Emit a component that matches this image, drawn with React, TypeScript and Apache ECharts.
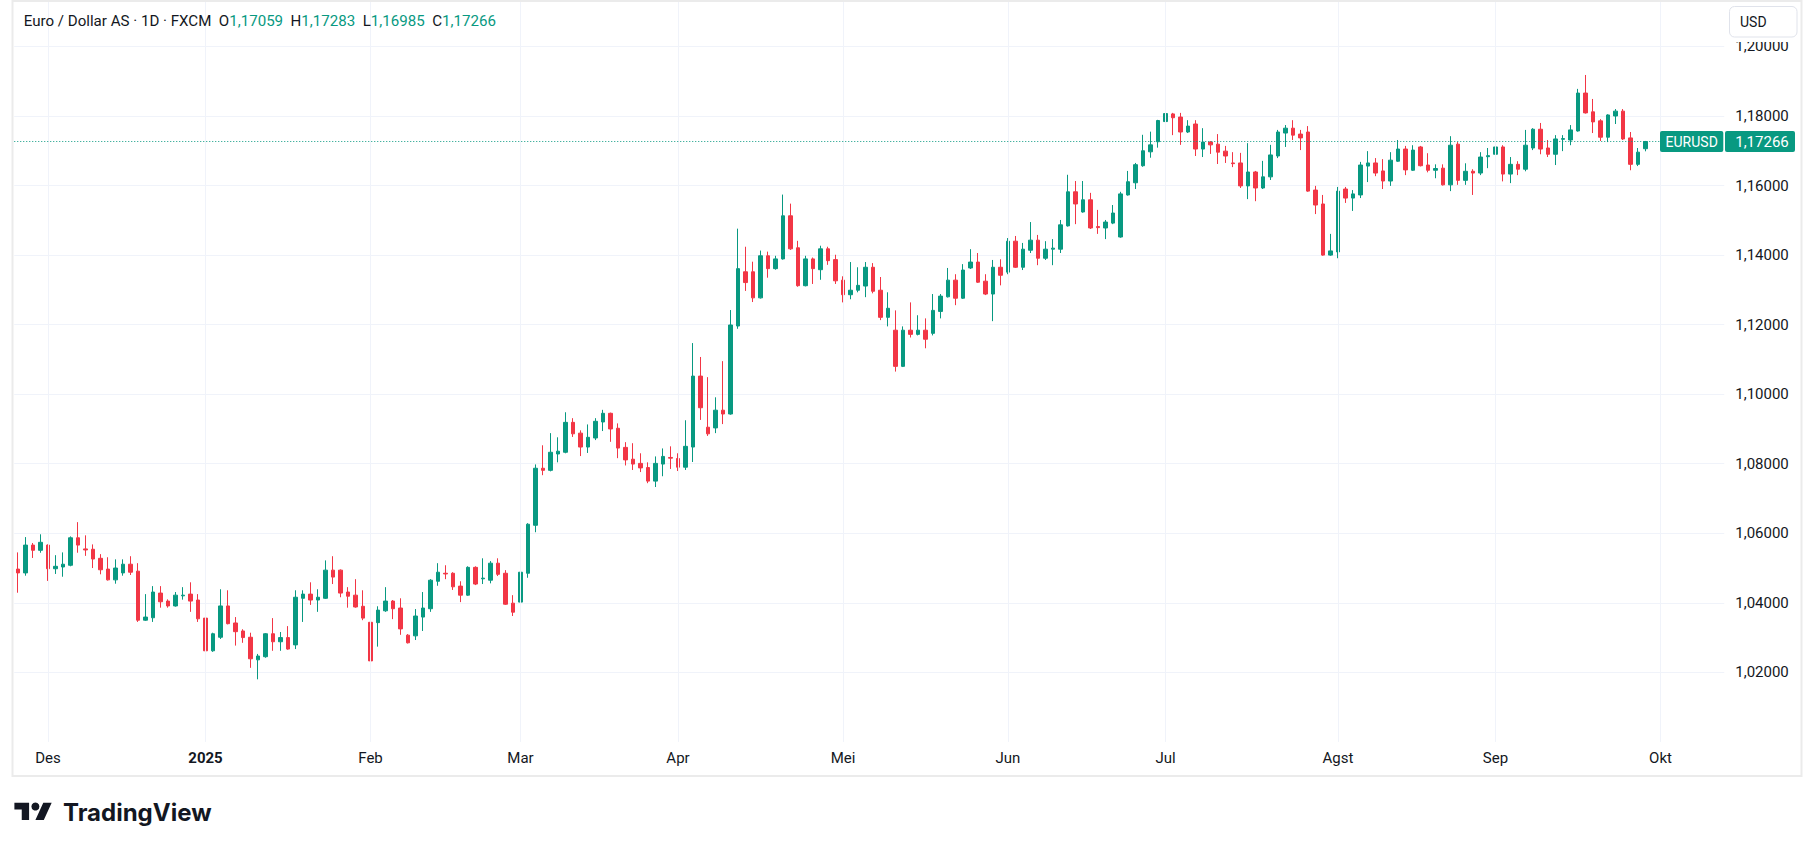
import React, { useEffect, useRef } from "react";
import * as echarts from "echarts";

// ---------- data ----------
const startDate = "2024-11-26";
const holidays = ["2024-12-25", "2025-01-01"];
const slotCount = 228;

const tickDates = ["2024-12-02", "2025-01-02", "2025-02-03", "2025-03-03", "2025-04-01", "2025-05-01", "2025-06-02", "2025-07-01", "2025-08-01", "2025-09-01", "2025-10-01"];
const tickLabels = ["Des", "2025", "Feb", "Mar", "Apr", "Mei", "Jun", "Jul", "Agst", "Sep", "Okt"];

const opens = [
  1.0497, 1.0486, 1.0566, 1.0551, 1.0566, 1.0498, 1.0503, 1.0508, 1.0587, 1.0555,
  1.0554, 1.0528, 1.0497, 1.0466, 1.0486, 1.0511, 1.0491, 1.0350, 1.0357, 1.0428,
  1.0405, 1.0391, 1.0420, 1.0425, 1.0408, 1.0356, 1.0262, 1.0301, 1.0391, 1.0342,
  1.0319, 1.0301, 1.0236, 1.0245, 1.0311, 1.0288, 1.0300, 1.0279, 1.0413, 1.0425,
  1.0408, 1.0413, 1.0494, 1.0494, 1.0431, 1.0422, 1.0390, 1.0344, 1.0343, 1.0377,
  1.0405, 1.0385, 1.0307, 1.0305, 1.0359, 1.0383, 1.0462, 1.0485, 1.0485, 1.0448,
  1.0422, 1.0502, 1.0469, 1.0465, 1.0514, 1.0485, 1.0399, 1.0402, 1.0485, 1.0623,
  1.0787, 1.0781, 1.0828, 1.0833, 1.0919, 1.0888, 1.0848, 1.0874, 1.0920, 1.0945,
  1.0902, 1.0847, 1.0813, 1.0801, 1.0789, 1.0750, 1.0799, 1.0818, 1.0815, 1.0790,
  1.0848, 1.1052, 1.0905, 1.0903, 1.0954, 1.0943, 1.1196, 1.1352, 1.1352, 1.1277,
  1.1398, 1.1361, 1.1389, 1.1513, 1.1421, 1.1312, 1.1389, 1.1358, 1.1418, 1.1387,
  1.1328, 1.1286, 1.1299, 1.1311, 1.1365, 1.1299, 1.1221, 1.1184, 1.1080, 1.1184,
  1.1172, 1.1184, 1.1175, 1.1238, 1.1280, 1.1328, 1.1276, 1.1363, 1.1380, 1.1325,
  1.1288, 1.1365, 1.1351, 1.1440, 1.1365, 1.1414, 1.1443, 1.1391, 1.1417, 1.1417,
  1.1484, 1.1582, 1.1524, 1.1559, 1.1482, 1.1478, 1.1492, 1.1452, 1.1573, 1.1608,
  1.1657, 1.1697, 1.1726, 1.1784, 1.1806, 1.1797, 1.1754, 1.1777, 1.1705, 1.1725,
  1.1719, 1.1699, 1.1665, 1.1665, 1.1599, 1.1639, 1.1593, 1.1625, 1.1685, 1.1751,
  1.1765, 1.1748, 1.1754, 1.1587, 1.1547, 1.1400, 1.1409, 1.1590, 1.1564, 1.1573,
  1.1656, 1.1665, 1.1642, 1.1613, 1.1670, 1.1705, 1.1644, 1.1711, 1.1659, 1.1644,
  1.1650, 1.1602, 1.1719, 1.1615, 1.1641, 1.1636, 1.1683, 1.1690, 1.1711, 1.1633,
  1.1661, 1.1647, 1.1708, 1.1762, 1.1708, 1.1690, 1.1733, 1.1731, 1.1757, 1.1866,
  1.1812, 1.1786, 1.1739, 1.1800, 1.1814, 1.1737, 1.1661, 1.17059,
];

const closes = [
  1.0486, 1.0566, 1.0551, 1.0574, 1.0498, 1.0505, 1.0511, 1.0587, 1.0566, 1.0552,
  1.0526, 1.0495, 1.0466, 1.0500, 1.0511, 1.0488, 1.0350, 1.0359, 1.0431, 1.0403,
  1.0391, 1.0422, 1.0422, 1.0405, 1.0354, 1.0262, 1.0311, 1.0391, 1.0340, 1.0317,
  1.0300, 1.0239, 1.0247, 1.0311, 1.0288, 1.0300, 1.0267, 1.0416, 1.0425, 1.0408,
  1.0416, 1.0494, 1.0474, 1.0428, 1.0419, 1.0388, 1.0356, 1.0233, 1.0379, 1.0405,
  1.0383, 1.0325, 1.0285, 1.0362, 1.0385, 1.0465, 1.0488, 1.0483, 1.0446, 1.0422,
  1.0502, 1.0454, 1.0471, 1.0514, 1.0482, 1.0396, 1.0373, 1.0488, 1.0626, 1.0787,
  1.0781, 1.0833, 1.0836, 1.0919, 1.0886, 1.0848, 1.0876, 1.0922, 1.0945, 1.0900,
  1.0845, 1.0811, 1.0799, 1.0788, 1.0750, 1.0801, 1.0821, 1.0816, 1.0790, 1.0850,
  1.1052, 1.0961, 1.0886, 1.0954, 1.0943, 1.1199, 1.1361, 1.1321, 1.1277, 1.1398,
  1.1361, 1.1389, 1.1513, 1.1418, 1.1312, 1.1389, 1.1361, 1.1418, 1.1384, 1.1326,
  1.1286, 1.1299, 1.1313, 1.1365, 1.1296, 1.1221, 1.1247, 1.1080, 1.1184, 1.1172,
  1.1184, 1.1158, 1.1241, 1.1282, 1.1328, 1.1276, 1.1357, 1.1380, 1.1322, 1.1288,
  1.1365, 1.1342, 1.1440, 1.1365, 1.1417, 1.1443, 1.1391, 1.1417, 1.1420, 1.1487,
  1.1582, 1.1547, 1.1559, 1.1478, 1.1479, 1.1495, 1.1521, 1.1576, 1.1611, 1.1660,
  1.1700, 1.1717, 1.1787, 1.1807, 1.1795, 1.1754, 1.1771, 1.1705, 1.1725, 1.1717,
  1.1696, 1.1685, 1.1663, 1.1599, 1.1639, 1.1593, 1.1625, 1.1688, 1.1754, 1.1765,
  1.1745, 1.1737, 1.1584, 1.1544, 1.1400, 1.1412, 1.1584, 1.1564, 1.1576, 1.1659,
  1.1665, 1.1636, 1.1613, 1.1673, 1.1705, 1.1645, 1.1702, 1.1657, 1.1644, 1.1649,
  1.1602, 1.1716, 1.1615, 1.1641, 1.1636, 1.1682, 1.1686, 1.1711, 1.1633, 1.1661,
  1.1647, 1.1716, 1.1762, 1.1705, 1.1690, 1.1734, 1.1735, 1.1760, 1.1866, 1.1809,
  1.1783, 1.1739, 1.1803, 1.1814, 1.1734, 1.1661, 1.1696, 1.17266,
];

const highs = [
  1.0545, 1.0589, 1.0572, 1.0597, 1.0568, 1.0537, 1.0545, 1.0591, 1.0632, 1.0594,
  1.0568, 1.0540, 1.0531, 1.0525, 1.0525, 1.0534, 1.0514, 1.0425, 1.0448, 1.0448,
  1.0410, 1.0431, 1.0445, 1.0459, 1.0425, 1.0373, 1.0314, 1.0439, 1.0436, 1.0359,
  1.0324, 1.0314, 1.0253, 1.0313, 1.0356, 1.0316, 1.0333, 1.0436, 1.0436, 1.0459,
  1.0439, 1.0522, 1.0534, 1.0496, 1.0445, 1.0468, 1.0436, 1.0350, 1.0390, 1.0445,
  1.0408, 1.0413, 1.0310, 1.0382, 1.0431, 1.0468, 1.0514, 1.0508, 1.0488, 1.0462,
  1.0505, 1.0505, 1.0528, 1.0520, 1.0528, 1.0494, 1.0422, 1.0505, 1.0629, 1.0798,
  1.0853, 1.0888, 1.0876, 1.0948, 1.0931, 1.0896, 1.0913, 1.0931, 1.0955, 1.0947,
  1.0916, 1.0862, 1.0859, 1.0830, 1.0804, 1.0821, 1.0844, 1.0850, 1.0830, 1.0925,
  1.1147, 1.1107, 1.1049, 1.0991, 1.1095, 1.1242, 1.1476, 1.1424, 1.1381, 1.1413,
  1.1410, 1.1398, 1.1574, 1.1548, 1.1441, 1.1398, 1.1393, 1.1427, 1.1424, 1.1401,
  1.1339, 1.1380, 1.1365, 1.1380, 1.1377, 1.1337, 1.1293, 1.1241, 1.1195, 1.1264,
  1.1227, 1.1218, 1.1288, 1.1288, 1.1363, 1.1345, 1.1374, 1.1417, 1.1406, 1.1345,
  1.1386, 1.1388, 1.1449, 1.1455, 1.1435, 1.1495, 1.1458, 1.1440, 1.1446, 1.1501,
  1.1631, 1.1613, 1.1613, 1.1579, 1.1530, 1.1501, 1.1544, 1.1582, 1.1642, 1.1665,
  1.1746, 1.1755, 1.1789, 1.1830, 1.1809, 1.1809, 1.1788, 1.1788, 1.1765, 1.1728,
  1.1748, 1.1714, 1.1696, 1.1694, 1.1722, 1.1642, 1.1671, 1.1717, 1.1760, 1.1774,
  1.1788, 1.1760, 1.1771, 1.1599, 1.1573, 1.1461, 1.1596, 1.1596, 1.1587, 1.1668,
  1.1699, 1.1679, 1.1676, 1.1696, 1.1731, 1.1714, 1.1716, 1.1714, 1.1693, 1.1661,
  1.1661, 1.1742, 1.1725, 1.1664, 1.1647, 1.1696, 1.1708, 1.1737, 1.1716, 1.1682,
  1.1670, 1.1760, 1.1765, 1.1780, 1.1731, 1.1745, 1.1745, 1.1774, 1.1878, 1.1918,
  1.1849, 1.1791, 1.1805, 1.1820, 1.1820, 1.1754, 1.1708, 1.17283,
];

const lows = [
  1.0429, 1.0478, 1.0529, 1.0544, 1.0463, 1.0483, 1.0475, 1.0505, 1.0544, 1.0535,
  1.0500, 1.0482, 1.0464, 1.0455, 1.0478, 1.0480, 1.0345, 1.0348, 1.0345, 1.0386,
  1.0386, 1.0389, 1.0409, 1.0374, 1.0345, 1.0225, 1.0259, 1.0296, 1.0338, 1.0277,
  1.0285, 1.0213, 1.0180, 1.0242, 1.0262, 1.0262, 1.0265, 1.0267, 1.0345, 1.0394,
  1.0374, 1.0411, 1.0454, 1.0416, 1.0386, 1.0386, 1.0350, 1.0213, 1.0274, 1.0374,
  1.0353, 1.0308, 1.0283, 1.0293, 1.0319, 1.0374, 1.0449, 1.0468, 1.0437, 1.0402,
  1.0420, 1.0451, 1.0454, 1.0456, 1.0477, 1.0394, 1.0362, 1.0391, 1.0472, 1.0603,
  1.0767, 1.0778, 1.0804, 1.0830, 1.0877, 1.0822, 1.0831, 1.0868, 1.0894, 1.0863,
  1.0816, 1.0795, 1.0782, 1.0776, 1.0744, 1.0733, 1.0764, 1.0785, 1.0779, 1.0782,
  1.0805, 1.0926, 1.0880, 1.0888, 1.0914, 1.0941, 1.1188, 1.1297, 1.1265, 1.1275,
  1.1335, 1.1358, 1.1387, 1.1415, 1.1309, 1.1310, 1.1317, 1.1329, 1.1372, 1.1317,
  1.1264, 1.1273, 1.1293, 1.1279, 1.1290, 1.1213, 1.1195, 1.1065, 1.1078, 1.1163,
  1.1169, 1.1132, 1.1169, 1.1218, 1.1278, 1.1256, 1.1274, 1.1360, 1.1320, 1.1285,
  1.1210, 1.1313, 1.1345, 1.1363, 1.1357, 1.1406, 1.1371, 1.1386, 1.1371, 1.1406,
  1.1482, 1.1489, 1.1522, 1.1475, 1.1461, 1.1446, 1.1489, 1.1450, 1.1571, 1.1590,
  1.1654, 1.1680, 1.1709, 1.1761, 1.1745, 1.1717, 1.1751, 1.1685, 1.1682, 1.1691,
  1.1662, 1.1665, 1.1653, 1.1593, 1.1561, 1.1555, 1.1590, 1.1616, 1.1679, 1.1711,
  1.1731, 1.1702, 1.1582, 1.1518, 1.1398, 1.1398, 1.1391, 1.1550, 1.1527, 1.1564,
  1.1610, 1.1627, 1.1590, 1.1599, 1.1668, 1.1630, 1.1642, 1.1655, 1.1638, 1.1621,
  1.1600, 1.1584, 1.1602, 1.1602, 1.1573, 1.1630, 1.1650, 1.1688, 1.1612, 1.1607,
  1.1630, 1.1641, 1.1702, 1.1690, 1.1682, 1.1659, 1.1699, 1.1716, 1.1755, 1.1807,
  1.1751, 1.1728, 1.1725, 1.1777, 1.1731, 1.1644, 1.1656, 1.16985,
];

const yMin = 1.0;
const yMax = 1.212787;
const yStep = 0.02;

// ---------- style ----------
const FONT = "Roboto, 'Noto Sans', sans-serif";
const UP = "#089981";
const DOWN = "#f23645";
const TEXT = "#131722";
const GRID = "#f0f3fa";

const TV_LOGO = "M14 22H7V11H0V4h14v18zM28 22h-8l7.5-18h8L28 22z";
echarts.graphic.registerShape("tvlogo", echarts.graphic.extendPath(TV_LOGO, {}));

function buildDates(): string[] {
  const out: string[] = [];
  const d = new Date(startDate + "T00:00:00Z");
  while (out.length < slotCount) {
    const dow = d.getUTCDay();
    const s = d.toISOString().slice(0, 10);
    if (dow !== 0 && dow !== 6 && holidays.indexOf(s) < 0) out.push(s);
    d.setUTCDate(d.getUTCDate() + 1);
  }
  return out;
}

const fmt = (v: number) => v.toFixed(5).replace(".", ",");

export default function App() {
  const ref = useRef<HTMLDivElement>(null);

  useEffect(() => {
    document.body.style.margin = "0";
    document.body.style.overflow = "hidden";
    const el = ref.current!;
    const chart = echarts.init(el, null, { renderer: "svg" });
    const dates = buildDates();
    const candles = opens.map((o, i) => [o, closes[i], lows[i], highs[i]]);
    const last = opens.length - 1;
    const lastClose = closes[last];
    const lastUp = closes[last] >= opens[last];
    const tagColor = lastUp ? UP : DOWN;

    const option: any = {
      animation: false,
      backgroundColor: "#ffffff",
      textStyle: { fontFamily: FONT },
      grid: {
        left: 14.25,
        right: 1813 - 1724.25,
        top: 2,
        bottom: 849 - 741.9,
        containLabel: false,
        outerBoundsMode: "none",
      },
      xAxis: {
        type: "category",
        data: dates,
        boundaryGap: true,
        axisLine: { show: false },
        axisTick: { show: false },
        splitLine: { show: false },
        axisLabel: {
          interval: (_i: number, v: string) => tickDates.indexOf(v) >= 0,
          formatter: (v: string) => {
            const k = tickDates.indexOf(v);
            if (k < 0) return "";
            const lab = tickLabels[k];
            return /^\d{4}$/.test(lab) ? `{b|${lab}}` : lab;
          },
          color: TEXT,
          fontSize: 15,
          fontFamily: FONT,
          margin: 9,
          rich: { b: { fontWeight: "bold", fontSize: 15, color: TEXT, fontFamily: FONT } },
        },
      },
      yAxis: {
        type: "value",
        position: "right",
        min: yMin,
        max: yMax,
        interval: yStep,
        scale: true,
        axisLine: { show: false },
        axisTick: { show: false },
        splitLine: { show: true, showMinLine: false, showMaxLine: false, lineStyle: { color: GRID, width: 1 } },
        axisLabel: {
          formatter: (v: number) => fmt(v),
          color: TEXT,
          fontSize: 15,
          fontFamily: FONT,
          margin: 11,
          showMinLabel: false,
          showMaxLabel: false,
        },
      },
      series: [
        {
          type: "line",
          data: [],
          silent: true,
          z: 0,
          markLine: {
            silent: true,
            symbol: ["none", "none"],
            label: { show: false },
            lineStyle: { color: GRID, type: "solid", width: 1 },
            data: tickDates.map((d) => ({ xAxis: dates.indexOf(d) })),
          },
        },
        {
          type: "candlestick",
          data: candles,
          barWidth: 4,
          z: 3,
          itemStyle: {
            color: UP,
            color0: DOWN,
            borderColor: UP,
            borderColor0: DOWN,
            borderWidth: 1,
          },
        },
        {
          type: "line",
          data: [],
          silent: true,
          z: 5,
          markLine: {
            silent: true,
            precision: 5,
            symbol: ["none", "none"],
            label: { show: false },
            lineStyle: { color: tagColor, type: [1, 2], width: 1 },
            data: [{ yAxis: lastClose }],
          },
        },
      ],
    };

    chart.setOption(option);

    const py = chart.convertToPixel({ yAxisIndex: 0 }, lastClose) as number;
    const TS = 15.1;
    const titleText =
      `{n|Euro / Dollar AS · 1D · FXCM  O}{v|${fmt(opens[last])}}` +
      `{n|  H}{v|${fmt(highs[last])}}` +
      `{n|  L}{v|${fmt(lows[last])}}` +
      `{n|  C}{v|${fmt(closes[last])}}`;

    chart.setOption({
      graphic: {
        elements: [
          {
            type: "rect",
            z: 100,
            silent: true,
            shape: { x: 12.5, y: 1, width: 1789, height: 775 },
            style: { fill: "none", stroke: "#ebebeb", lineWidth: 2 },
          },
          {
            type: "text",
            z: 100,
            x: 23.7,
            y: 21,
            style: {
              text: titleText,
              verticalAlign: "middle",
              fontSize: TS,
              fontFamily: FONT,
              rich: {
                n: { fill: TEXT, fontSize: TS, fontFamily: FONT },
                v: { fill: tagColor, fontSize: TS, fontFamily: FONT },
              },
            },
          },
          {
            type: "rect",
            z: 100,
            silent: true,
            shape: { x: 1725, y: 2.5, width: 75, height: 39.5 },
            style: { fill: "#ffffff" },
          },
          {
            type: "rect",
            z: 101,
            shape: { x: 1729.5, y: 6.5, width: 67.5, height: 30.5, r: 5 },
            style: { fill: "#ffffff", stroke: "#e0e3eb", lineWidth: 1 },
          },
          {
            type: "text",
            z: 102,
            x: 1740,
            y: 22,
            style: { text: "USD", fontSize: 14, fontFamily: FONT, fill: TEXT, verticalAlign: "middle", align: "left" },
          },
          {
            type: "rect",
            z: 101,
            shape: { x: 1660, y: py - 10.5, width: 63.3, height: 21, r: 2 },
            style: { fill: tagColor },
          },
          {
            type: "text",
            z: 102,
            x: 1691.7,
            y: py,
            style: { text: "EURUSD", fontSize: 14, fontFamily: FONT, fill: "#ffffff", align: "center", verticalAlign: "middle" },
          },
          {
            type: "rect",
            z: 101,
            shape: { x: 1725, y: py - 10.5, width: 70, height: 21, r: 2 },
            style: { fill: tagColor },
          },
          {
            type: "text",
            z: 102,
            x: 1762,
            y: py,
            style: { text: fmt(lastClose), fontSize: 15, fontFamily: FONT, fill: "#ffffff", align: "center", verticalAlign: "middle" },
          },
          {
            type: "tvlogo",
            z: 100,
            x: 14.4,
            y: 798.9,
            scaleX: 1.05,
            scaleY: 0.96,
            style: { fill: TEXT },
          },
          {
            type: "circle",
            z: 100,
            shape: { cx: 14.4 + 20 * 1.05, cy: 798.9 + 8 * 0.96, r: 4 },
            style: { fill: TEXT },
          },
          {
            type: "text",
            z: 100,
            x: 63,
            y: 812,
            style: { text: "TradingView", fontSize: 24, fontWeight: 700, fontFamily: "Inter, Roboto, sans-serif", fill: TEXT, verticalAlign: "middle" },
          },
        ],
      },
    });

    return () => chart.dispose();
  }, []);

  return <div ref={ref} style={{ width: 1813, height: 849 }} />;
}
